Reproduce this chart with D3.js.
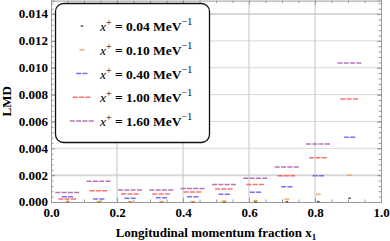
<!DOCTYPE html>
<html>
<head>
<meta charset="utf-8">
<script src="https://cdn.jsdelivr.net/npm/d3@7"></script>
<style>
  body { margin: 0; background: #fff; }
  svg text { font-family: "Liberation Serif", "DejaVu Serif", serif; font-weight: bold; }
</style>
</head>
<body>
<svg id="chart" width="390" height="241"></svg>
<script>
// bin centres on the x axis
const xBins = [0.05, 0.145, 0.24, 0.335, 0.43, 0.525, 0.62, 0.715, 0.81, 0.905];

// LMD per bin, one array per x+ value
const lmd004 = [0.00001, 0.00001, 0.00001, 0.00001, 0.00001, 0.00001, 0.00001, 0.00003, 0.00003, 0.00028];
const lmd010 = [0.00002, 0.00003, 0.00001, 0.00002, 0.00003, 0.00007, 0.0001, 0.00022, 0.00057, 0.00199];
const lmd040 = [0.0004, 0.00022, 0.00028, 0.00032, 0.0004, 0.00057, 0.00072, 0.00114, 0.00196, 0.00482];
const lmd100 = [0.00022, 0.00083, 0.0006, 0.0006, 0.00074, 0.00097, 0.0013, 0.00196, 0.0033, 0.00767];
const lmd160 = [0.0007, 0.00154, 0.0009, 0.0009, 0.001, 0.0013, 0.00176, 0.0026, 0.00432, 0.01035];

const seriesLabels = ["0.04", "0.10", "0.40", "1.00", "1.60"];
const xTicks = [0, 0.2, 0.4, 0.6, 0.8, 1.0];
const yTicks = [0, 0.002, 0.004, 0.006, 0.008, 0.010, 0.012, 0.014];

const series = [lmd004, lmd010, lmd040, lmd100, lmd160];
const colors = ["#333333", "#f5a040", "#5050ff", "#ff4d4d", "#a550a5"];
const halfWidths = [0.004, 0.0078, 0.0175, 0.028, 0.037]; // segment half length, data units

const svg = d3.select("#chart");
const pLeft = 51, pRight = 381, pTop = 0.6, pBottom = 202;

const x = d3.scaleLinear().domain([0, 1]).range([pLeft, pRight]);
const y = d3.scaleLinear().domain([0, 0.015]).range([pBottom, pTop]);

// grid
svg.append("g")
  .selectAll("line")
  .data(yTicks.slice(1))
  .join("line")
  .attr("x1", pLeft).attr("x2", pRight)
  .attr("y1", d => y(d)).attr("y2", d => y(d))
  .attr("stroke", "#d8d8d8")
  .attr("stroke-width", d => (d === 0.002 || d === 0.014) ? 2 : 1);

svg.append("g")
  .selectAll("line")
  .data(xTicks.slice(1, -1))
  .join("line")
  .attr("x1", d => x(d)).attr("x2", d => x(d))
  .attr("y1", pTop).attr("y2", pBottom)
  .attr("stroke", "#c4c4c4")
  .attr("stroke-width", 1);

// frame with inward ticks
const tickColor = "#999";
const yAxisL = d3.axisLeft(y).tickValues(yTicks).tickSize(-4).tickFormat(d3.format(".3f"));
const yAxisR = d3.axisRight(y).tickValues(yTicks).tickSize(-4).tickFormat("");
const xAxisB = d3.axisBottom(x).tickValues(xTicks).tickSize(-4).tickFormat(d3.format(".1f"));
const xAxisT = d3.axisTop(x).tickValues(xTicks).tickSize(-4).tickFormat("");

const yMinor = d3.range(0, 0.0151, 0.0004);
const xMinor = d3.range(0, 1.001, 0.05);

function minor(g, axis) { g.call(axis).select(".domain").remove(); g.selectAll("line").attr("stroke", tickColor); }

svg.append("g").attr("transform", `translate(${pLeft},0)`).call(minor, d3.axisLeft(y).tickValues(yMinor).tickSize(-2.5).tickFormat(""));
svg.append("g").attr("transform", `translate(${pRight},0)`).call(minor, d3.axisRight(y).tickValues(yMinor).tickSize(-2.5).tickFormat(""));
svg.append("g").attr("transform", `translate(0,${pBottom})`).call(minor, d3.axisBottom(x).tickValues(xMinor).tickSize(-2.5).tickFormat(""));
svg.append("g").attr("transform", `translate(0,${pTop})`).call(minor, d3.axisTop(x).tickValues(xMinor).tickSize(-2.5).tickFormat(""));

function styleAxis(g) {
  g.select(".domain").attr("stroke", tickColor);
  g.selectAll(".tick line").attr("stroke", tickColor);
  g.selectAll(".tick text").attr("fill", "#000").style("font-size", "13px");
}
svg.append("g").attr("transform", `translate(${pLeft},0)`).call(yAxisL).call(styleAxis)
  .selectAll(".tick text").attr("x", -3).attr("dy", "0.3em");
svg.append("g").attr("transform", `translate(${pRight},0)`).call(yAxisR).call(styleAxis);
svg.append("g").attr("transform", `translate(0,${pBottom})`).call(xAxisB).call(styleAxis)
  .selectAll(".tick text").attr("y", 6);
svg.append("g").attr("transform", `translate(0,${pTop})`).call(xAxisT).call(styleAxis);

// legend box
const legend = svg.append("g");
legend.append("rect")
  .attr("x", 55.5).attr("y", 3.5).attr("width", 154).attr("height", 139)
  .attr("rx", 8).attr("ry", 8)
  .attr("fill", "#fff").attr("stroke", "#111").attr("stroke-width", 1.3);

// data segments
series.forEach((vals, s) => {
  svg.append("g")
    .selectAll("line")
    .data(vals)
    .join("line")
    .attr("x1", (d, i) => x(xBins[i] - halfWidths[s]))
    .attr("x2", (d, i) => x(xBins[i] + halfWidths[s]))
    .attr("y1", d => y(d)).attr("y2", d => y(d))
    .attr("stroke", colors[s])
    .attr("stroke-width", 1.5)
    .attr("stroke-dasharray", "5,1.3")
    .attr("opacity", 0.8);
});

// legend entries
const legendY = d3.scaleLinear().domain([0, 4]).range([26, 121]);
const markX = 82;
seriesLabels.forEach((lab, s) => {
  const w = halfWidths[s] * 330;
  legend.append("line")
    .attr("x1", markX - w).attr("x2", markX + w)
    .attr("y1", legendY(s)).attr("y2", legendY(s))
    .attr("stroke", colors[s]).attr("stroke-width", 1.5)
    .attr("stroke-dasharray", "5,1.3").attr("opacity", 0.8);
  const t = legend.append("text")
    .attr("x", 100).attr("y", legendY(s) + 5)
    .style("font-size", "13.5px");
  t.append("tspan").text("x").style("font-style", "italic").style("font-weight", "normal");
  t.append("tspan").text("+").attr("dy", -5).style("font-size", "10px").style("font-weight", "normal");
  t.append("tspan").text(" = " + lab + " MeV").attr("dy", 5);
  t.append("tspan").text("\u22121").attr("dy", -6).style("font-size", "10px").style("font-weight", "normal");
});

// axis titles
svg.append("text")
  .attr("transform", `translate(11,${(pTop + pBottom) / 2}) rotate(-90)`)
  .attr("text-anchor", "middle")
  .style("font-size", "13px")
  .text("LMD");

const xl = svg.append("text")
  .attr("x", (pLeft + pRight) / 2).attr("y", 237)
  .attr("text-anchor", "middle")
  .style("font-size", "13px");
xl.append("tspan").text("Longitudinal momentum fraction x");
xl.append("tspan").text("1").attr("dy", 3).style("font-size", "9px");
</script>
</body>
</html>
